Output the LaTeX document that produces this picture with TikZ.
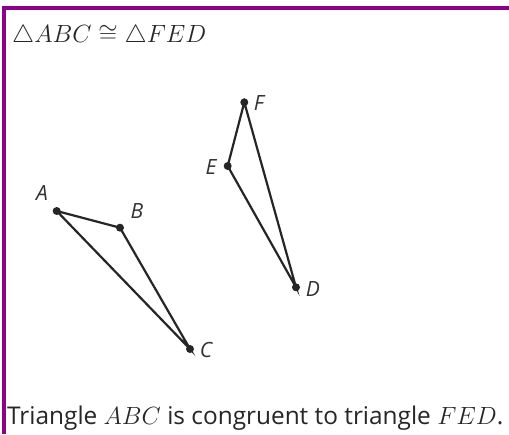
\documentclass[tikz,border=0pt]{standalone}
\usepackage[no-math]{fontspec}
\setmainfont{Open Sans}
\definecolor{framec}{RGB}{140,0,140}
\begin{document}
\begin{tikzpicture}[x=1pt,y=-1pt,
  vtx/.style={circle,fill=black!85,inner sep=0pt,minimum size=8pt},
  lbl/.style={font=\fontsize{21}{21}\selectfont\itshape,text=black!80,inner sep=0pt},
  seg/.style={line width=2.2pt,draw=black!85}]
\useasboundingbox (0,0) rectangle (509,434);
\fill[white] (0,0) rectangle (509,434);
\fill[framec] (2,6) rectangle (509,10);
\fill[framec] (2,6) rectangle (6,434);
\node[anchor=base west,inner sep=0pt,font=\fontsize{23}{23}\selectfont,text=black!85] (title) at (12,42) {$\triangle ABC \cong \triangle FED$};
\node[anchor=base west,inner sep=0pt,font=\fontsize{24.4}{24.4}\selectfont,text=black!85] (caption) at (7,424) {Triangle $ABC$ is congruent to triangle $FED$.};
\node[vtx] (A) at (56.7,211) {};
\node[vtx] (B) at (120,227.7) {};
\node[vtx] (C) at (190,349) {};
\node[vtx] (F) at (244.3,102.3) {};
\node[vtx] (E) at (227.7,166) {};
\node[vtx] (D) at (296,287.3) {};
\draw[seg] (A.center) -- (B.center) -- (C.center) -- cycle;
\draw[seg] (F.center) -- (E.center) -- (D.center) -- cycle;
\node[lbl] (lA) at (42,193) {A};
\node[lbl] (lB) at (137,211) {B};
\node[lbl] (lC) at (206,350) {C};
\node[lbl] (lF) at (259,103) {F};
\node[lbl] (lE) at (211,167) {E};
\node[lbl] (lD) at (313,289) {D};
\end{tikzpicture}
\end{document}
